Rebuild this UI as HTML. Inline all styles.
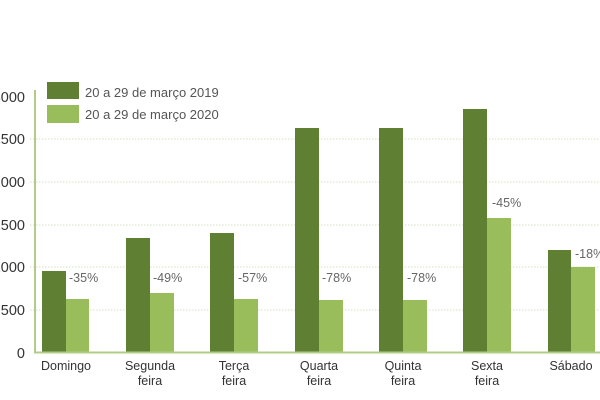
<!DOCTYPE html>
<html><head><meta charset="utf-8"><style>
html,body{margin:0;padding:0;background:#fff;}
svg{display:block;}
text{font-family:"Liberation Sans",sans-serif;}
</style></head><body>
<svg width="600" height="400" viewBox="0 0 600 400" xmlns="http://www.w3.org/2000/svg">
<rect width="600" height="400" fill="#fff"/>
<!-- gridlines -->
<g stroke="#d6e2c0" stroke-width="1" stroke-dasharray="1.5,1.5">
<line x1="30" y1="139" x2="600" y2="139"/>
<line x1="30" y1="182" x2="600" y2="182"/>
<line x1="30" y1="225" x2="600" y2="225"/>
<line x1="30" y1="267" x2="600" y2="267"/>
<line x1="30" y1="310" x2="600" y2="310"/>
</g>
<!-- y labels -->
<g font-size="14.5" fill="#333" text-anchor="end">
<text x="25" y="102">3000</text>
<text x="25" y="144">2500</text>
<text x="25" y="187">2000</text>
<text x="25" y="230">1500</text>
<text x="25" y="272">1000</text>
<text x="25" y="315">500</text>
<text x="25" y="358">0</text>
</g>
<!-- bars 2019 -->
<g fill="#5f7f33">
<rect x="42" y="271" width="24" height="81"/>
<rect x="126" y="238" width="24" height="114"/>
<rect x="210" y="233" width="24" height="119"/>
<rect x="295" y="128" width="24" height="224"/>
<rect x="379" y="128" width="24" height="224"/>
<rect x="463" y="109" width="24" height="243"/>
<rect x="548" y="250" width="23" height="102"/>
</g>
<!-- bars 2020 -->
<g fill="#9abd5c">
<rect x="66" y="299" width="23" height="53"/>
<rect x="150" y="293" width="24" height="59"/>
<rect x="234" y="299" width="24" height="53"/>
<rect x="319" y="300" width="24" height="52"/>
<rect x="403" y="300" width="24" height="52"/>
<rect x="487" y="218" width="24" height="134"/>
<rect x="571" y="267" width="24" height="85"/>
</g>
<!-- axes -->
<line x1="35" y1="90" x2="35" y2="353" stroke="#b3cd88" stroke-width="2"/>
<line x1="34" y1="352.5" x2="600" y2="352.5" stroke="#b3cd88" stroke-width="2"/>
<!-- percentage labels -->
<g font-size="12.5" fill="#666">
<text x="69" y="282">-35%</text>
<text x="153" y="282">-49%</text>
<text x="238" y="282">-57%</text>
<text x="322" y="282">-78%</text>
<text x="407" y="282">-78%</text>
<text x="492" y="207">-45%</text>
<text x="575" y="258">-18%</text>
</g>
<!-- category labels -->
<g font-size="12.5" fill="#333" text-anchor="middle">
<text x="66" y="370">Domingo</text>
<text x="150" y="370">Segunda</text>
<text x="150" y="385">feira</text>
<text x="234" y="370">Terça</text>
<text x="234" y="385">feira</text>
<text x="319" y="370">Quarta</text>
<text x="319" y="385">feira</text>
<text x="403" y="370">Quinta</text>
<text x="403" y="385">feira</text>
<text x="487" y="370">Sexta</text>
<text x="487" y="385">feira</text>
<text x="571" y="370">Sábado</text>
</g>
<!-- legend -->
<rect x="47" y="82" width="32" height="17" fill="#5f7f33"/>
<rect x="47" y="105" width="32" height="18" fill="#9abd5c"/>
<g font-size="13" fill="#555">
<text x="85" y="97">20 a 29 de março 2019</text>
<text x="85" y="119">20 a 29 de março 2020</text>
</g>
</svg>
</body></html>
